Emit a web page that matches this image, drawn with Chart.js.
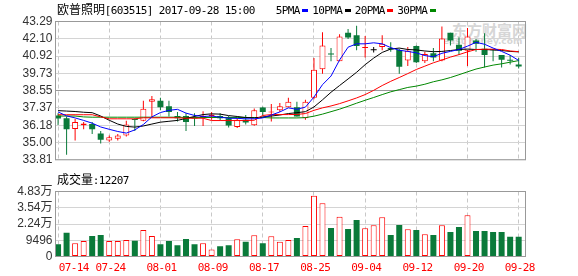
<!DOCTYPE html>
<html>
<head>
<meta charset="utf-8">
<script src="https://cdn.jsdelivr.net/npm/chart.js@4/dist/chart.umd.min.js"></script>
<style>
  html, body { margin: 0; padding: 0; background: #fff; }
  #wrap { position: relative; width: 578px; height: 276px; overflow: hidden; }
  #wm { position: absolute; left: 452px; top: 22px; font: bold 15px/15px "Noto Sans CJK SC"; color: #d6d6d6; }
  #wm2 { position: absolute; left: 443px; top: 37px; font: bold 9px/9px "DejaVu Sans"; color: #d6d6d6; }
  canvas { position: absolute; left: 0; }
</style>
</head>
<body>
<div id="wrap">
  <div id="wm">东方财富网</div>
  <div id="wm2">eastmoney.com</div>
  <canvas id="kline" width="578" height="170" style="top:0"></canvas>
  <canvas id="vol" width="578" height="106" style="top:170px"></canvas>
</div>
<script>
const dates = ["07-14","07-17","07-18","07-19","07-20","07-21","07-24","07-25","07-26","07-27","07-28","07-31",
  "08-01","08-02","08-03","08-04","08-07","08-08","08-09","08-10","08-11","08-14","08-15","08-16","08-17","08-18",
  "08-21","08-22","08-23","08-24","08-25","08-28","08-29","08-30","08-31","09-01","09-04","09-05","09-06","09-07",
  "09-08","09-11","09-12","09-13","09-14","09-15","09-18","09-19","09-20","09-21","09-22","09-25","09-26","09-27","09-28"];

const open  = [36.85,36.66,35.92,36.18,36.27,35.62,35.14,35.25,35.47,36.57,36.49,37.79,37.85,37.48,36.81,36.81,36.68,36.74,36.77,
  36.81,36.66,36.05,36.55,36.18,37.40,37.05,37.20,37.42,37.42,36.66,38.07,40.02,41.06,40.57,42.52,42.35,41.48,41.32,41.55,41.48,
  41.34,40.61,41.61,40.57,41.11,40.61,42.52,41.70,41.29,41.98,41.43,41.39,41.00,40.64,40.35];
const high  = [37.00,36.77,36.60,36.40,36.40,35.79,35.47,35.58,36.49,36.66,37.85,38.18,38.07,37.85,37.09,37.00,37.00,37.13,37.09,
  37.00,36.81,36.68,36.88,37.33,37.45,37.64,37.70,38.07,37.79,37.92,40.78,42.56,41.48,42.41,42.78,43.00,42.30,41.55,42.35,41.87,
  41.43,41.55,41.65,41.22,41.48,42.95,42.52,42.20,42.85,42.09,42.48,41.39,41.00,41.00,40.78];
const low   = [36.20,34.16,35.14,35.90,35.57,34.92,35.05,35.14,35.40,35.79,36.45,36.75,37.20,36.77,36.44,35.79,36.12,36.12,36.55,
  36.50,36.03,35.99,36.23,36.15,36.88,36.44,37.09,37.42,36.77,36.55,37.96,39.70,40.57,40.57,42.09,41.32,40.83,41.17,41.32,41.22,
  39.70,40.24,40.45,40.45,40.57,40.57,41.65,41.00,40.24,41.22,40.13,40.57,40.13,40.35,40.07];
const close = [36.64,35.90,36.40,36.29,35.90,35.18,35.36,35.47,36.23,36.53,37.31,37.96,37.42,37.09,36.66,36.40,36.64,36.78,36.92,
  36.66,36.16,36.55,36.36,37.20,37.09,37.12,37.48,37.79,36.77,37.79,39.98,41.65,41.02,42.26,42.20,41.61,41.55,41.32,41.76,41.37,
  40.18,41.29,40.50,41.06,40.83,42.13,41.98,41.29,42.26,41.76,41.00,41.32,40.67,40.60,40.20];

const ma5  = [37.09,36.82,36.68,36.51,36.32,36.06,35.90,35.75,35.64,35.86,36.23,36.75,37.05,37.20,37.27,37.01,36.85,36.78,36.81,
  36.73,36.66,36.65,36.62,36.62,36.68,36.88,37.09,37.37,37.27,37.42,38.11,38.96,39.55,40.65,41.53,41.76,41.76,41.83,41.76,41.50,
  41.32,41.24,41.14,40.95,40.88,41.11,41.24,41.37,41.60,41.86,41.73,41.47,41.24,40.98,40.62];
const ma10 = [37.18,37.15,37.12,37.07,37.04,36.81,36.52,36.26,36.10,36.05,36.13,36.26,36.39,36.45,36.51,36.65,36.78,36.91,36.96,
  36.94,36.84,36.78,36.71,36.68,36.75,36.81,36.88,36.98,37.04,37.11,37.43,37.92,38.44,38.90,39.35,39.81,40.33,40.78,41.17,41.40,
  41.47,41.37,41.34,41.27,41.22,41.24,41.30,41.37,41.40,41.37,41.37,41.34,41.30,41.24,41.21];
const ma20 = [36.90,36.90,36.90,36.90,36.90,36.75,36.62,36.62,36.62,36.62,36.69,36.69,36.69,36.69,36.69,36.66,36.66,36.66,36.50,
  36.50,36.50,36.50,36.50,36.52,36.85,36.91,36.91,36.91,36.92,36.98,37.20,37.37,37.50,37.66,37.85,38.05,38.28,38.57,38.90,39.19,
  39.45,39.72,40.00,40.23,40.46,40.65,40.85,41.02,41.21,41.37,41.39,41.39,41.37,41.27,41.22];
const ma30 = [36.81,36.81,36.81,36.75,36.73,36.73,36.73,36.73,36.73,36.73,36.73,36.73,36.73,36.73,36.73,36.71,36.71,36.71,36.71,
  36.71,36.71,36.71,36.71,36.71,36.71,36.68,36.68,36.68,36.68,36.70,36.80,36.94,37.11,37.28,37.48,37.69,37.89,38.08,38.28,38.47,
  38.62,38.77,38.86,38.99,39.16,39.29,39.45,39.64,39.84,40.03,40.17,40.30,40.39,40.50,40.61];

const volume = [6400,15500,7200,8800,12800,13600,8800,8800,9600,9100,17600,12800,6400,8800,5600,10400,6400,7200,2200,4800,5600,
  10200,8300,13400,7200,12600,8300,9600,11200,20800,44900,39000,19200,28300,18400,25600,19000,21400,27800,13600,21600,18200,
  17600,14200,13600,21400,16000,20000,29400,16800,16800,16000,16000,12200,12207];

const priceTicks = [33.81, 35.00, 36.18, 37.37, 38.55, 39.73, 40.92, 42.10, 43.29];
const volTicks = [-3440, 9496, 22400, 35400, 48300];
const volTickLabels = ["0", "9496", "2.24万", "3.54万", "4.83万"];
const dateTicks = ["07-14", "07-24", "08-01", "08-09", "08-17", "08-25", "09-04", "09-12", "09-20", "09-28"];

const maNames = ["5PMA", "10PMA", "20PMA", "30PMA"];
const maColors = ["#0000ff", "#000000", "#ff0000", "#008800"];

const RED = "#ff0000";
const GREEN = "#0a7a3a";
const tickIdx = dateTicks.map(d => dates.indexOf(d));

const candleColor = dates.map((d, i) => close[i] > open[i] ? RED : close[i] < open[i] ? GREEN : "#000");
const isUp = dates.map((d, i) => close[i] > open[i]);

// ascii 6px, cjk 12px, like the old bitmap font
function drawMixed(ctx, text, x, y) {
  ctx.textAlign = "center";
  ctx.textBaseline = "alphabetic";
  for (const ch of text) {
    const wide = ch.charCodeAt(0) > 255;
    const w = wide ? 12 : 6;
    ctx.font = wide ? '12px "Noto Sans CJK SC"' : '11px "DejaVu Sans Mono"';
    ctx.fillText(ch, x + w / 2, y);
    x += w;
  }
  return x;
}

const frame = {
  id: "frame",
  afterDraw(chart) {
    const { ctx, chartArea: a } = chart;
    ctx.save();
    ctx.strokeStyle = "#999";
    ctx.lineWidth = 1;
    ctx.strokeRect(a.left, a.top, a.right - a.left, a.bottom - a.top);
    ctx.restore();
  }
};

const header = {
  id: "header",
  afterDraw(chart) {
    const ctx = chart.ctx;
    ctx.save();
    ctx.fillStyle = "#000";
    drawMixed(ctx, "欧普照明[603515] 2017-09-28 15:00", 57, 14);
    let x = 276;
    maNames.forEach((name, k) => {
      ctx.fillStyle = "#000";
      const end = drawMixed(ctx, name, x, 14);
      ctx.fillStyle = maColors[k];
      ctx.fillRect(Math.round(end + 2), 9, 6, 3);
      x = end + 12.5;
    });
    ctx.restore();
  }
};

const volHeader = {
  id: "volHeader",
  afterDraw(chart) {
    const { ctx, chartArea: a } = chart;
    const xs = chart.scales.x;
    ctx.save();
    ctx.fillStyle = "#000";
    drawMixed(ctx, "成交量:" + volume[volume.length - 1], 57, 13.5);
    ctx.fillStyle = RED;
    dateTicks.forEach(label => {
      const px = xs.getPixelForValue(dates.indexOf(label));
      const start = Math.max(px - 13.5, a.left + 3.5);
      drawMixed(ctx, label, start, 100.7);
    });
    ctx.restore();
  }
};

const xScale = {
  type: "linear",
  min: -0.3,
  max: 54.8,
  offset: false,
  afterBuildTicks: s => { s.ticks = tickIdx.map(v => ({ value: v })); },
  ticks: { display: false },
  grid: { color: "#c8c8c8", drawTicks: false, offset: false },
  border: { display: false, dash: [4, 3] }
};

const tickFont = { family: '"Liberation Sans", "Noto Sans CJK SC"', size: 12 };

const line = (data, color, order) => ({
  type: "line",
  data: data.map((v, i) => ({ x: i, y: v })),
  borderColor: color,
  borderWidth: 1,
  pointRadius: 0,
  tension: 0,
  fill: false,
  order: order
});

new Chart(document.getElementById("kline"), {
  type: "bar",
  data: {
    datasets: [
      line(ma5, maColors[0], 0),
      line(ma20, maColors[2], 1),
      line(ma10, maColors[1], 2),
      line(ma30, maColors[3], 3),
      {
        data: dates.map((d, i) => ({ x: i, y: [open[i], close[i]] })),
        barThickness: 6,
        minBarLength: 1,
        grouped: false,
        inflateAmount: 0,
        borderSkipped: false,
        backgroundColor: dates.map((d, i) => isUp[i] ? "#fff" : candleColor[i]),
        borderColor: candleColor,
        borderWidth: isUp.map(u => u ? 1 : 0),
        order: 4
      },
      {
        data: dates.map((d, i) => ({ x: i, y: [low[i], high[i]] })),
        barThickness: 1,
        grouped: false,
        inflateAmount: 0,
        backgroundColor: candleColor,
        order: 5
      }
    ]
  },
  options: {
    responsive: false,
    animation: false,
    events: [],
    layout: { padding: { left: 0, top: 21.5, right: 52.5, bottom: 3.5 } },
    plugins: { legend: { display: false }, tooltip: { enabled: false } },
    scales: {
      x: xScale,
      y: {
        min: priceTicks[0],
        max: priceTicks[priceTicks.length - 1],
        afterBuildTicks: s => { s.ticks = priceTicks.map(v => ({ value: v })); },
        afterFit: s => { s.width = 55.5; },
        ticks: { autoSkip: false, callback: v => v.toFixed(2), color: "#333", font: tickFont, padding: 3 },
        grid: { color: c => c.index === 4 ? "#999" : "#d4d4d4", drawTicks: false },
        border: { display: false }
      }
    }
  },
  plugins: [frame, header]
});

new Chart(document.getElementById("vol"), {
  type: "bar",
  data: {
    datasets: [{
      data: volume.map((v, i) => ({ x: i, y: v })),
      base: volTicks[0],
      barThickness: 6,
      grouped: false,
      inflateAmount: 0,
      borderSkipped: false,
      backgroundColor: dates.map((d, i) => close[i] >= open[i] ? "#fff" : GREEN),
      borderColor: dates.map((d, i) => close[i] >= open[i] ? RED : GREEN),
      borderWidth: dates.map((d, i) => close[i] >= open[i] ? 1 : 0)
    }]
  },
  options: {
    responsive: false,
    animation: false,
    events: [],
    layout: { padding: { left: 0, top: 21.5, right: 52.5, bottom: 19.5 } },
    plugins: { legend: { display: false }, tooltip: { enabled: false } },
    scales: {
      x: xScale,
      y: {
        min: volTicks[0],
        max: volTicks[volTicks.length - 1],
        afterBuildTicks: s => { s.ticks = volTicks.map(v => ({ value: v })); },
        afterFit: s => { s.width = 55.5; },
        ticks: { autoSkip: false, callback: (v, i) => volTickLabels[i], color: "#333", font: tickFont, padding: 3 },
        grid: { color: "#d4d4d4", drawTicks: false },
        border: { display: false }
      }
    }
  },
  plugins: [frame, volHeader]
});
</script>
</body>
</html>
